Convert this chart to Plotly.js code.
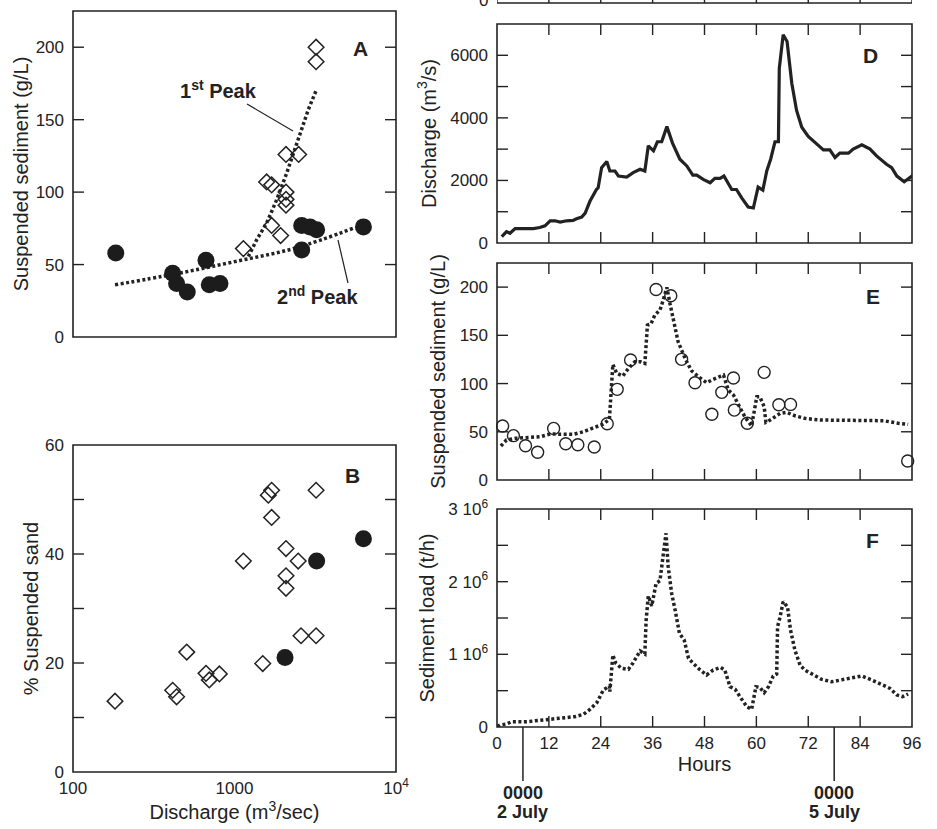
<!DOCTYPE html>
<html><head><meta charset="utf-8">
<script src="https://cdn.plot.ly/plotly-3.0.1.min.js"></script>
<style>html,body{margin:0;padding:0;background:#fff}</style>
</head><body><div id="chart" style="width:937px;height:829px"></div>
<script>
// ---- Panel A: suspended sediment vs discharge ----
const aPeak2Q = [184, 414, 438, 510, 666, 698, 813, 2606, 2606, 2930, 3225, 6285];
const aPeak2SS = [58, 44, 37, 31, 53, 36, 37, 77, 60, 76, 74, 76];
const aPeak1Q = [3200, 3200, 2084, 2496, 1581, 1698, 2084, 2084, 2084, 1698, 1931, 1135];
const aPeak1SS = [200, 190, 126, 126, 107, 105, 100, 95, 91, 77, 70, 61];
const aFit1Q = [1218, 1371, 1581, 1824, 2103, 2312, 2545, 2866, 3200];
const aFit1SS = [55.5, 67, 78.6, 94.7, 113, 127, 141, 157, 170];
const aFit2Q = [182, 429, 1000, 2371, 5572];
const aFit2SS = [36, 43.5, 52, 61.3, 75.5];
// ---- Panel B: % suspended sand vs discharge ----
const bPeak1Q = [182, 414, 438, 506, 666, 698, 806, 1135, 1496, 1619, 1698, 1698, 2084, 2084, 2084, 2480, 2582, 3200, 3200];
const bPeak1Sand = [13, 15, 13.8, 22, 18.1, 16.9, 18, 38.7, 19.9, 50.8, 51.7, 46.7, 41, 36, 33.7, 38.7, 25, 51.7, 25];
const bPeak2Q = [2055, 3225, 6285];
const bPeak2Sand = [21, 38.7, 42.8];
// ---- Panel D: discharge ----
const dHours = [1.1, 2.2, 3, 4.2, 8.4, 9.9, 11.1, 12.3, 13.4, 14.6, 16.1, 17.6, 18.4, 19.6, 20.4, 21.5, 23, 23.4, 24.2, 25.4, 26.1, 27.3, 28.1, 30, 31.5, 33.1, 34.2, 35, 36.2, 37.1, 38.1, 39.3, 40.6, 42.3, 43.9, 45.3, 46.2, 47.7, 49.3, 50.4, 51.6, 52.5, 54.3, 55.4, 56.6, 58.1, 59.3, 60.4, 61.5, 62.4, 63.3, 64.3, 65.1, 65.3, 66.2, 67.1, 68.2, 69.3, 70.5, 72, 74, 75.5, 77, 78.2, 79.3, 81.3, 82.4, 84.4, 86.3, 87.8, 90.1, 91.3, 92.5, 94.2, 96.3];
const dDischarge = [204, 365, 312, 462, 462, 495, 548, 710, 710, 667, 710, 720, 774, 828, 957, 1333, 1710, 1764, 2410, 2603, 2301, 2301, 2140, 2107, 2248, 2355, 2301, 3107, 2946, 3236, 3236, 3720, 3194, 2678, 2462, 2172, 2172, 2032, 1926, 2065, 2065, 2140, 1710, 1710, 1442, 1152, 1119, 1785, 1688, 2301, 2678, 3236, 3236, 5581, 6655, 6440, 5097, 4236, 3700, 3410, 3161, 2978, 2978, 2732, 2871, 2871, 3000, 3140, 3000, 2784, 2516, 2410, 2140, 1958, 2172];
// ---- Panel E: suspended sediment ----
const eObsHours = [1.3, 3.8, 6.6, 9.4, 13.1, 15.9, 18.7, 22.5, 25.5, 27.8, 30.9, 36.8, 40.2, 42.7, 45.8, 49.7, 52, 54.7, 54.9, 57.9, 61.8, 65.2, 67.9, 95];
const eObsSS = [56, 46, 35.5, 28.7, 53.5, 37.6, 36.6, 34.2, 58.4, 94, 124.4, 197.6, 191, 125.1, 100.9, 68.1, 90.9, 105.7, 72.5, 58.8, 111.6, 78, 78.4, 19.7];
const eCalcHours = [0.9, 2.2, 4.2, 6.9, 10, 12.3, 15.3, 17.6, 20, 22.3, 24.6, 26, 26.4, 26.8, 27.7, 29.1, 30.4, 31.9, 33.2, 34.2, 34.8, 35.6, 36.5, 37.7, 38.5, 39.3, 40, 40.9, 41.9, 43.5, 45, 46.8, 48.5, 50, 52.4, 53.5, 54.7, 56.1, 57.4, 58.9, 60.1, 60.8, 61.8, 62.2, 63.2, 65.5, 67, 68.9, 71.2, 74.7, 79.3, 85.5, 89.4, 92.8, 95.1];
const eCalcSS = [35.2, 41.5, 43.2, 43.8, 44.9, 47.7, 47.7, 47.3, 50.1, 54.2, 58, 62.9, 93.3, 119.9, 110.6, 107.8, 115.7, 122.6, 122.6, 120.9, 160.6, 161.7, 171, 176.2, 187.3, 199.7, 183.1, 162.4, 143.3, 126.1, 113.3, 106.4, 100.9, 104.3, 108.8, 93.3, 88.1, 76, 65, 56, 86.3, 86.3, 76, 59.8, 62.2, 69.1, 70.2, 66.6, 63.9, 62.2, 62.2, 62.2, 61.5, 58.8, 57.7];
// ---- Panel F: sediment load ----
const fHours = [0.1, 0.7, 2.2, 3.4, 6.9, 9.2, 11.5, 13.8, 16.1, 18, 20, 21.5, 23.1, 24.6, 26, 26.1, 26.8, 27.5, 28.8, 30.4, 31.5, 33.1, 34.2, 34.5, 35, 35.8, 36.8, 37.7, 38.5, 39.1, 39.6, 40.4, 41.2, 42.2, 43.3, 44.3, 45.4, 47, 48.5, 50, 51.7, 52.7, 53.9, 55.1, 56.2, 57.8, 58.9, 59.9, 60.8, 61.8, 62.8, 63.9, 64.7, 64.9, 65.5, 66.2, 67.2, 67.9, 68.9, 70.1, 71.2, 73.2, 75.1, 77.4, 79.7, 82.1, 84.4, 86.7, 89, 90.9, 92.5, 93.8, 95.1];
const fLoad = [5000, 27500, 41000, 73000, 73000, 87000, 110000, 120000, 133000, 142000, 174000, 243000, 335000, 509000, 564000, 486000, 991000, 876000, 808000, 794000, 885000, 1046000, 1005000, 1472000, 1803000, 1665000, 1977000, 2013000, 2390000, 2665000, 2206000, 1840000, 1610000, 1289000, 1197000, 945000, 876000, 784000, 716000, 784000, 821000, 784000, 555000, 519000, 417000, 280000, 243000, 555000, 546000, 472000, 555000, 702000, 729000, 1380000, 1518000, 1724000, 1655000, 1335000, 1060000, 853000, 784000, 716000, 656000, 623000, 647000, 670000, 702000, 647000, 578000, 532000, 440000, 417000, 454000];
// ---- tick labels ----
const logTickVals = [100, 1000, 10000];
const logTickText = ['100', '1000', '10<sup>4</sup>'];
const loadTickVals = [0, 500000, 1000000, 1500000, 2000000, 2500000, 3000000];
const loadTickText = ['0', ' ', '1 10<sup>6</sup>', ' ', '2 10<sup>6</sup>', ' ', '3 10<sup>6</sup>'];
const qTickVals = [0, 1000, 2000, 3000, 4000, 5000, 6000, 7000];
const qTickText = ['0', ' ', '2000', ' ', '4000', ' ', '6000', ' '];
const sandTickVals = [0, 10, 20, 30, 40, 50, 60];
const sandTickText = ['0', ' ', '20', ' ', '40', ' ', '60'];
const ssTickVals = [0, 50, 100, 150, 200];
const hourTicks = [0, 12, 24, 36, 48, 60, 72, 84, 96];

const FONT = 'Liberation Sans, Arial, Helvetica, sans-serif';
const INK = '#222';
const H = 829, W = 937;
const py = (top, bot) => [1 - bot / H, Math.min(1, 1 - top / H)];
const px = (l, r) => [l / W, r / W];
const tfont = {family: FONT, size: 20, color: INK};
const TL = 11; // tick length in px

function ax(extra) {
  return Object.assign({
    showline: false, ticks: '', showgrid: false, zeroline: false,
    tickfont: {family: FONT, size: 17, color: INK}
  }, extra);
}

const dotLine = {color: INK, width: 3.5, dash: '3px,2.5px'};

const traces = [
  {x: aFit1Q, y: aFit1SS, xaxis: 'x', yaxis: 'y', mode: 'lines', line: dotLine},
  {x: aFit2Q, y: aFit2SS, xaxis: 'x', yaxis: 'y', mode: 'lines', line: Object.assign({}, dotLine, {shape: 'spline'})},
  {x: aPeak2Q, y: aPeak2SS, xaxis: 'x', yaxis: 'y', mode: 'markers', marker: {symbol: 'circle', size: 17, color: '#1c1c1c'}},
  {x: aPeak1Q, y: aPeak1SS, xaxis: 'x', yaxis: 'y', mode: 'markers', marker: {symbol: 'diamond-open', size: 12, color: INK, line: {width: 1.5}}},
  {x: bPeak1Q, y: bPeak1Sand, xaxis: 'x2', yaxis: 'y2', mode: 'markers', marker: {symbol: 'diamond-open', size: 12, color: INK, line: {width: 1.5}}},
  {x: bPeak2Q, y: bPeak2Sand, xaxis: 'x2', yaxis: 'y2', mode: 'markers', marker: {symbol: 'circle', size: 17, color: '#1c1c1c'}},
  {x: dHours, y: dDischarge, xaxis: 'x3', yaxis: 'y3', mode: 'lines', line: {color: INK, width: 3.2}},
  {x: eCalcHours, y: eCalcSS, xaxis: 'x4', yaxis: 'y4', mode: 'lines', line: dotLine},
  {x: eObsHours, y: eObsSS, xaxis: 'x4', yaxis: 'y4', mode: 'markers', cliponaxis: false, marker: {symbol: 'circle-open', size: 12, color: INK, line: {width: 1.4}}},
  {x: fHours, y: fLoad, xaxis: 'x5', yaxis: 'y5', mode: 'lines', line: dotLine}
];

const hourAxis = (anchor, labels, extra) => ax(Object.assign({
  domain: px(497, 912), anchor: anchor, range: [0, 96], tickvals: hourTicks, showticklabels: labels, ticklabelstandoff: 4
}, extra || {}));

function label(text, xref, x, y, size) {
  return {text: text, xref: xref, yref: 'paper', x: x, y: 1 - y / H, xanchor: 'center', yanchor: 'middle',
    showarrow: false, font: {family: FONT, size: size, color: INK}};
}

// frame and inward ticks on all four sides of a panel
function frame(xa, ya, xTicks, yTicks, wpx, hpx) {
  const ln = {color: INK, width: 1.4};
  const s = [{type: 'rect', xref: xa + ' domain', yref: ya + ' domain', x0: 0, x1: 1, y0: 0, y1: 1, line: {color: INK, width: 1.6}, fillcolor: 'rgba(0,0,0,0)'}];
  xTicks.forEach(v => {
    s.push({type: 'line', xref: xa, yref: ya + ' domain', x0: v, x1: v, y0: 0, y1: TL / hpx, line: ln});
    s.push({type: 'line', xref: xa, yref: ya + ' domain', x0: v, x1: v, y0: 1, y1: 1 - TL / hpx, line: ln});
  });
  yTicks.forEach(v => {
    s.push({type: 'line', xref: xa + ' domain', yref: ya, x0: 0, x1: TL / wpx, y0: v, y1: v, line: ln});
    s.push({type: 'line', xref: xa + ' domain', yref: ya, x0: 1, x1: 1 - TL / wpx, y0: v, y1: v, line: ln});
  });
  return s;
}

// remnant of the cropped top panel (C): its bottom frame edge with inward ticks
const cShapes = [{type: 'line', xref: 'x5', yref: 'paper', x0: 0, x1: 96, y0: 1 - 3 / H, y1: 1 - 3 / H, line: {color: INK, width: 1.6}}]
  .concat(hourTicks.map(h => ({type: 'line', xref: 'x5', yref: 'paper', x0: h, x1: h, y0: 1 - 3 / H, y1: 1, line: {color: INK, width: 1.4}})));

const layout = {
  width: W, height: H, margin: {l: 0, r: 0, t: 0, b: 0},
  paper_bgcolor: '#fff', plot_bgcolor: 'rgba(0,0,0,0)', showlegend: false,
  font: {family: FONT, color: INK},
  xaxis: ax({domain: px(73, 396), anchor: 'y', type: 'log', range: [2, 4], tickvals: logTickVals, ticktext: logTickText, showticklabels: false}),
  yaxis: ax({domain: py(11, 337), anchor: 'x', range: [0, 225], tickvals: ssTickVals, ticklabelstandoff: 8,
    title: {text: 'Suspended sediment (g/L)', standoff: 1, font: tfont}}),
  xaxis2: ax({domain: px(73, 396), anchor: 'y2', type: 'log', range: [2, 4], tickvals: logTickVals, ticktext: logTickText, ticklabelstandoff: 4,
    title: {text: 'Discharge (m<sup>3</sup>/sec)', standoff: 6, font: tfont}}),
  yaxis2: ax({domain: py(445, 772), anchor: 'x2', range: [0, 60], tickvals: sandTickVals, ticktext: sandTickText, ticklabelstandoff: 8,
    title: {text: '% Suspended sand', standoff: 1, font: tfont}}),
  xaxis3: hourAxis('y3', false),
  yaxis3: ax({domain: py(24, 243), anchor: 'x3', range: [0, 7000], tickvals: qTickVals, ticktext: qTickText, ticklabelstandoff: 8,
    title: {text: 'Discharge (m<sup>3</sup>/s)', standoff: 8, font: tfont}}),
  xaxis4: hourAxis('y4', false),
  yaxis4: ax({domain: py(263, 480), anchor: 'x4', range: [0, 225], tickvals: ssTickVals, ticklabelstandoff: 8,
    title: {text: 'Suspended sediment (g/L)', standoff: 8, font: tfont}}),
  xaxis5: hourAxis('y5', true, {title: {text: 'Hours', standoff: 4, font: tfont}}),
  yaxis5: ax({domain: py(509, 727), anchor: 'x5', range: [0, 3000000], tickvals: loadTickVals, ticktext: loadTickText, ticklabelstandoff: 8,
    title: {text: 'Sediment load (t/h)', standoff: 8, font: tfont}}),
  annotations: [
    label('<b>A</b>', 'paper', 360 / W, 48, 21),
    label('<b>B</b>', 'paper', 352 / W, 475, 21),
    label('<b>D</b>', 'paper', 870 / W, 55, 21),
    label('<b>E</b>', 'paper', 873 / W, 296, 21),
    label('<b>F</b>', 'paper', 872 / W, 540, 21),
    label('<b>1<sup>st</sup> Peak</b>', 'paper', 218 / W, 90, 20),
    label('<b>2<sup>nd</sup> Peak</b>', 'paper', 317 / W, 295, 20),
    label('<b>0000</b>', 'x5', 6, 793, 18),
    label('<b>2 July</b>', 'x5', 6, 812, 18),
    label('<b>0000</b>', 'x5', 78, 793, 18),
    label('<b>5 July</b>', 'x5', 78, 812, 18),
    label('0', 'paper', 483 / W, 0, 17)
  ],
  shapes: [
    {type: 'line', xref: 'paper', yref: 'paper', x0: 247 / W, y0: 1 - 104 / H, x1: 293 / W, y1: 1 - 131 / H, line: {color: INK, width: 1.2}},
    {type: 'line', xref: 'paper', yref: 'paper', x0: 338 / W, y0: 1 - 240 / H, x1: 348 / W, y1: 1 - 283 / H, line: {color: INK, width: 1.2}},
    {type: 'line', xref: 'x5', yref: 'paper', x0: 6, x1: 6, y0: 1 - 727 / H, y1: 1 - 781 / H, line: {color: INK, width: 1.5}},
    {type: 'line', xref: 'x5', yref: 'paper', x0: 78, x1: 78, y0: 1 - 727 / H, y1: 1 - 781 / H, line: {color: INK, width: 1.5}}
  ].concat(cShapes)
   .concat(frame('x', 'y', [3], [50, 100, 150, 200], 323, 326))
   .concat(frame('x2', 'y2', [3], [10, 20, 30, 40, 50], 323, 327))
   .concat(frame('x3', 'y3', hourTicks.slice(1, -1), qTickVals.slice(1, -1), 415, 219))
   .concat(frame('x4', 'y4', hourTicks.slice(1, -1), [50, 100, 150, 200], 415, 217))
   .concat(frame('x5', 'y5', hourTicks.slice(1, -1), loadTickVals.slice(1, -1), 415, 218))
};

Plotly.newPlot('chart', traces, layout, {staticPlot: true, displayModeBar: false});
</script>
</body></html>
